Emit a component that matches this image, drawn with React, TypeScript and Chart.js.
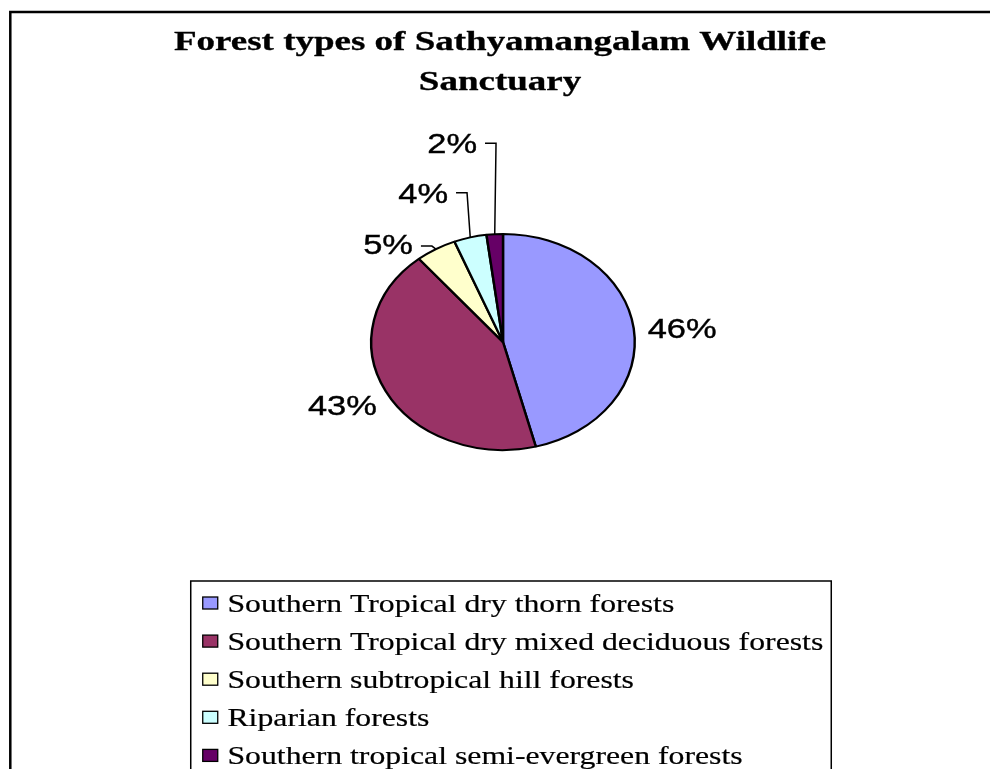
import React, { useEffect, useRef } from 'react';
import { Chart, registerables } from 'chart.js';

Chart.register(...registerables);

// ---------- data ----------
const TITLE_LINES = ['Forest types of Sathyamangalam Wildlife', 'Sanctuary'];
const CATEGORIES = [
  'Southern Tropical dry thorn forests',
  'Southern Tropical dry mixed deciduous forests',
  'Southern subtropical hill forests',
  'Riparian forests',
  'Southern tropical semi-evergreen forests',
];
const SHARES = [46, 43, 5, 4, 2];
const COLORS = ['#9999FF', '#993366', '#FFFFCC', '#CCFFFF', '#660066'];

// ---------- styling ----------
const PIE_SX = 1.22; // horizontal stretch of the pie (ellipse)
const LABEL_FONT = '28px "Liberation Sans", Arial, sans-serif';
const LABEL_SX = 1.23;
const TITLE_FONT = 'bold 27px "Liberation Serif", "Times New Roman", serif';
const TITLE_SX = 1.37;
const LEGEND_FONT = '25px "Liberation Serif", "Times New Roman", serif';
const LEGEND_SX = 1.27;

// label placement style per slice (offsets from the slice's outer mid point)
type LabelStyle =
  | { kind: 'side'; dx: number; dy: number; align: 'left' | 'right' }
  | { kind: 'leader'; ex: number; ey: number; baseDy: number };
const LABEL_STYLE: LabelStyle[] = [
  { kind: 'side', dx: 14, dy: 9.5, align: 'left' },
  { kind: 'side', dx: -8.7, dy: 24, align: 'right' },
  { kind: 'leader', ex: -4, ey: -3, baseDy: 7.5 },
  { kind: 'leader', ex: -3.2, ey: -44.7, baseDy: 10.6 },
  { kind: 'leader', ex: 1.3, ey: -91, baseDy: 10 },
];

function drawText(
  ctx: CanvasRenderingContext2D,
  text: string,
  x: number,
  y: number,
  align: 'left' | 'right' | 'center',
  sx: number,
  weight = 0
) {
  const w = ctx.measureText(text).width * sx;
  const left = align === 'left' ? x : align === 'right' ? x - w : x - w / 2;
  ctx.save();
  ctx.translate(left, y);
  ctx.scale(sx, 1);
  ctx.textAlign = 'left';
  ctx.textBaseline = 'alphabetic';
  ctx.fillText(text, 0, 0);
  if (weight > 0) {
    ctx.lineWidth = weight;
    ctx.strokeStyle = ctx.fillStyle as string;
    ctx.strokeText(text, 0, 0);
  }
  ctx.restore();
}

const decorPlugin = {
  id: 'decor',
  beforeDatasetsDraw(chart: any) {
    const ctx = chart.ctx as CanvasRenderingContext2D;
    const arc = chart.getDatasetMeta(0).data[0];
    const cx = arc ? arc.x : chart.chartArea.left + chart.chartArea.width / 2;
    ctx.save();
    ctx.translate(cx, 0);
    ctx.scale(PIE_SX, 1);
    ctx.translate(-cx, 0);
  },
  afterDatasetsDraw(chart: any) {
    const ctx = chart.ctx as CanvasRenderingContext2D;
    ctx.restore();
    const meta = chart.getDatasetMeta(0);
    const values: number[] = chart.data.datasets[0].data;
    const total = values.reduce((a, b) => a + b, 0);
    ctx.save();
    ctx.fillStyle = '#000';
    ctx.strokeStyle = '#000';
    ctx.lineWidth = 1.5;
    ctx.font = LABEL_FONT;
    meta.data.forEach((el: any, i: number) => {
      const p = el.getProps(['x', 'y', 'startAngle', 'endAngle', 'outerRadius'], true);
      const mid = (p.startAngle + p.endAngle) / 2;
      const ax = p.x + Math.cos(mid) * p.outerRadius * PIE_SX;
      const ay = p.y + Math.sin(mid) * p.outerRadius;
      const text = Math.round((values[i] / total) * 100) + '%';
      const st = LABEL_STYLE[i];
      if (st.kind === 'side') {
        drawText(ctx, text, ax + st.dx, ay + st.dy, st.align, LABEL_SX, 0.4);
      } else {
        const ex = ax + st.ex;
        const ey = ay + st.ey;
        const hx = ex - 11;
        ctx.beginPath();
        ctx.moveTo(ax, ay);
        ctx.lineTo(ex, ey);
        ctx.lineTo(hx, ey);
        ctx.lineWidth = 1.5;
        ctx.stroke();
        drawText(ctx, text, hx - 8, ey + st.baseDy, 'right', LABEL_SX, 0.4);
      }
    });
    ctx.restore();
  },
  afterDraw(chart: any) {
    const ctx = chart.ctx as CanvasRenderingContext2D;
    const W = chart.width;
    const H = chart.height;
    ctx.save();
    // frame (top and left edges visible)
    ctx.strokeStyle = '#000';
    ctx.lineWidth = 2.5;
    ctx.beginPath();
    ctx.moveTo(10.3, H + 5);
    ctx.lineTo(10.3, 12);
    ctx.lineTo(W + 5, 12);
    ctx.stroke();

    // title
    ctx.fillStyle = '#000';
    ctx.font = TITLE_FONT;
    TITLE_LINES.forEach((line, i) => {
      drawText(ctx, line, 500, 50 + i * 40, 'center', TITLE_SX, 0.3);
    });

    // legend
    const labels: string[] = chart.data.labels;
    const colors: string[] = chart.data.datasets[0].backgroundColor;
    ctx.font = LEGEND_FONT;
    const maxW = Math.max(...labels.map((l) => ctx.measureText(l).width * LEGEND_SX));
    const boxW = 36.7 + maxW + 8;
    const boxLeft = 511 - boxW / 2;
    const boxTop = 581;
    const rowH = 38.1;
    ctx.lineWidth = 1.5;
    ctx.strokeStyle = '#000';
    ctx.strokeRect(boxLeft, boxTop, boxW, H + 40 - boxTop);
    labels.forEach((l, i) => {
      const cy = boxTop + 22 + i * rowH;
      ctx.fillStyle = colors[i];
      ctx.fillRect(boxLeft + 12, cy - 6, 15, 12);
      ctx.lineWidth = 1.3;
      ctx.strokeStyle = '#000';
      ctx.strokeRect(boxLeft + 12, cy - 6, 15, 12);
      ctx.fillStyle = '#000';
      drawText(ctx, l, boxLeft + 36.7, cy + 8.5, 'left', LEGEND_SX, 0.2);
    });
    ctx.restore();
  },
};

export default function App() {
  const ref = useRef<HTMLCanvasElement | null>(null);
  useEffect(() => {
    document.body.style.margin = '0';
    const canvas = ref.current;
    if (!canvas) return;
    const chart = new Chart(canvas, {
      type: 'pie',
      data: {
        labels: CATEGORIES,
        datasets: [
          {
            data: SHARES,
            backgroundColor: COLORS,
            borderColor: '#000000',
            borderWidth: 2,
            clip: false as any,
          },
        ],
      },
      options: {
        animation: false,
        responsive: true,
        maintainAspectRatio: false,
        events: [],
        radius: 108,
        layout: { padding: { left: 383, right: 367, top: 222, bottom: 307 } },
        plugins: {
          legend: { display: false },
          title: { display: false },
          tooltip: { enabled: false },
        },
      } as any,
      plugins: [decorPlugin],
    });
    return () => chart.destroy();
  }, []);
  return (
    <div style={{ position: 'relative', width: 990, height: 769, background: '#fff' }}>
      <canvas ref={ref} />
    </div>
  );
}
